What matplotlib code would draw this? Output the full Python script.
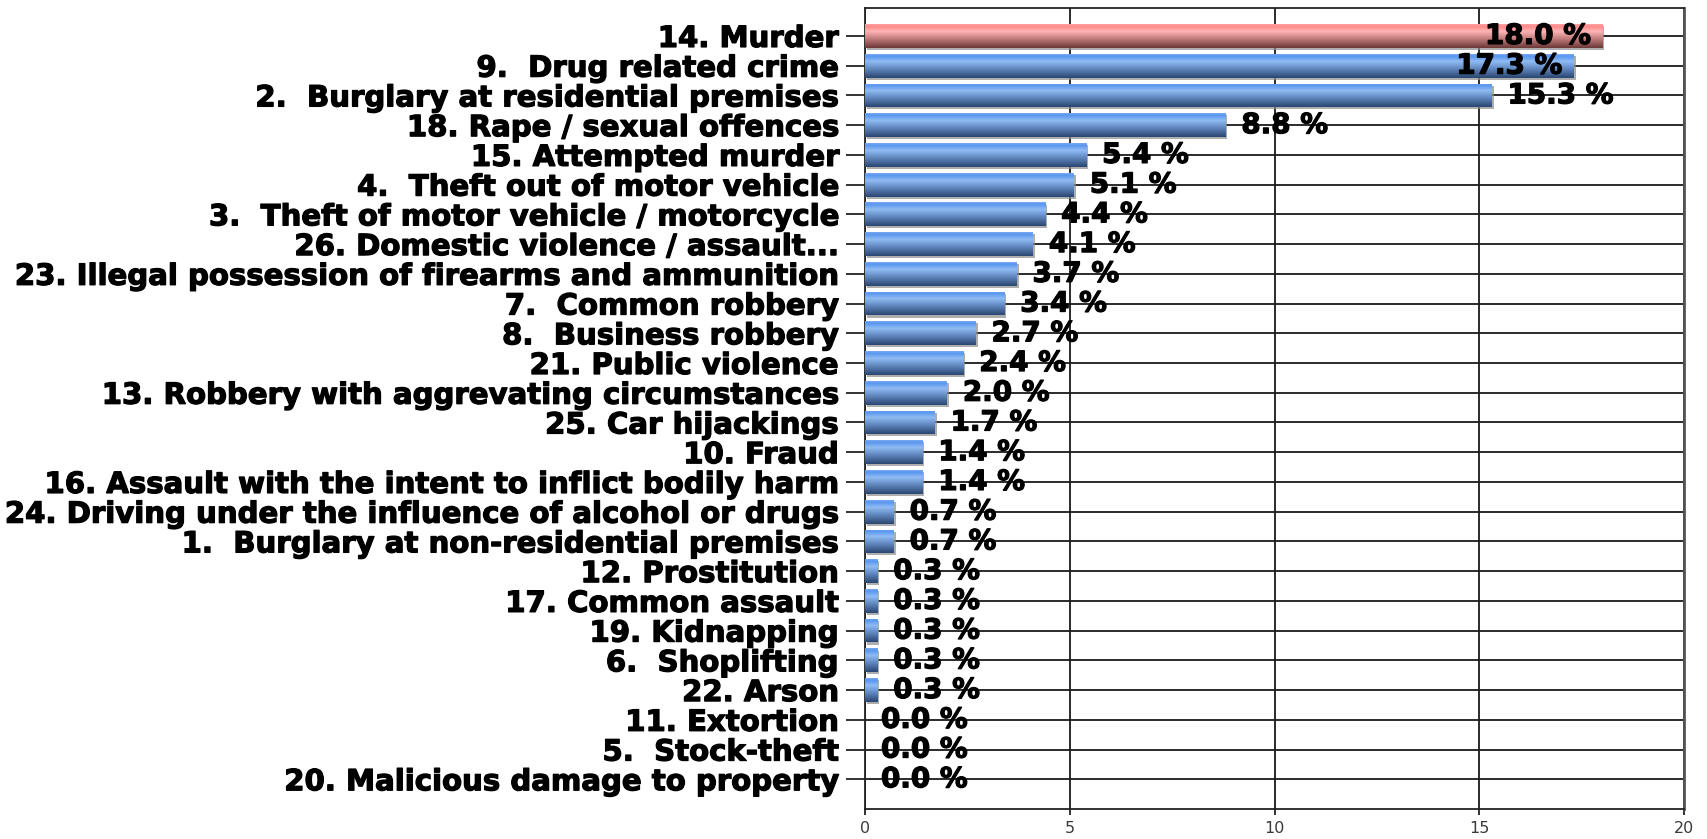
import matplotlib
matplotlib.use('Agg')
import matplotlib.pyplot as plt
import matplotlib.patheffects as pe
import numpy as np
from matplotlib.colors import LinearSegmentedColormap

plt.rcParams['font.family'] = ['DejaVu Sans']

# 数据
categories = [
    '14. Murder',
    '9.  Drug related crime',
    '2.  Burglary at residential premises',
    '18. Rape / sexual offences',
    '15. Attempted murder',
    '4.  Theft out of motor vehicle',
    '3.  Theft of motor vehicle / motorcycle',
    '26. Domestic violence / assault...',
    '23. Illegal possession of firearms and ammunition',
    '7.  Common robbery',
    '8.  Business robbery',
    '21. Public violence',
    '13. Robbery with aggrevating circumstances',
    '25. Car hijackings',
    '10. Fraud',
    '16. Assault with the intent to inflict bodily harm',
    '24. Driving under the influence of alcohol or drugs',
    '1.  Burglary at non-residential premises',
    '12. Prostitution',
    '17. Common assault',
    '19. Kidnapping',
    '6.  Shoplifting',
    '22. Arson',
    '11. Extortion',
    '5.  Stock-theft',
    '20. Malicious damage to property',
]
values = [18.0, 17.3, 15.3, 8.8, 5.4, 5.1, 4.4, 4.1, 3.7, 3.4, 2.7, 2.4, 2.0,
          1.7, 1.4, 1.4, 0.7, 0.7, 0.3, 0.3, 0.3, 0.3, 0.3, 0.0, 0.0, 0.0]
highlight = [True] + [False] * 25
x_ticks = [0, 5, 10, 15, 20]

# 渐变颜色
blue_cmap = LinearSegmentedColormap.from_list('blue', [
    (0.0, '#79a9ee'), (0.08, '#5896f0'), (0.3, '#90bbf3'),
    (0.55, '#6a92cb'), (1.0, '#2a4671')])
red_cmap = LinearSegmentedColormap.from_list('red', [
    (0.0, '#ffa5a5'), (0.08, '#ff8888'), (0.3, '#ffb4b4'),
    (0.55, '#cf8686'), (1.0, '#6c3838')])

heavy = [pe.withStroke(linewidth=0.9, foreground='black')]

fig = plt.figure(figsize=(17.07, 8.39), dpi=100)
ax = fig.add_axes([865 / 1707, 1 - 809 / 839, (1684 - 865) / 1707, (809 - 8) / 839])

y = np.arange(len(categories))
bars = ax.barh(y, values, height=0.8,
               color=['#e08a8a' if h else '#5b86c6' for h in highlight],
               zorder=3,
               path_effects=[pe.SimplePatchShadow(offset=(1.5, -1.5), shadow_rgbFace='0.55', alpha=0.7),
                             pe.Normal()])

grad = np.linspace(0, 1, 64).reshape(-1, 1)
for bar, v, h in zip(bars, values, highlight):
    if v <= 0:
        continue
    y0 = bar.get_y()
    hh = bar.get_height()
    im = ax.imshow(grad, cmap=red_cmap if h else blue_cmap, aspect='auto',
                   origin='upper', extent=(0, v, y0 + hh, y0), zorder=4,
                   interpolation='bilinear')
    im.set_clip_path(bar)

# 数值标签
for yi, v in zip(y, values):
    txt = f'{v:.1f} %'
    if v > 16:
        ax.annotate(txt, (v, yi), xytext=(-8, 0), textcoords='offset points',
                    ha='right', va='center', fontsize=20, fontweight='bold',
                    zorder=6, path_effects=heavy)
    else:
        ax.annotate(txt, (v, yi), xytext=(11.5, 0), textcoords='offset points',
                    ha='left', va='center', fontsize=20, fontweight='bold',
                    zorder=6, path_effects=heavy)

ax.set_xlim(0, 20)
ax.set_ylim(26.0, -0.94)
ax.set_xticks(x_ticks)
ax.set_yticks(y)
ax.set_yticklabels(categories, fontsize=21, fontweight='bold')
for lab in ax.get_yticklabels():
    lab.set_path_effects(heavy)
ax.tick_params(axis='y', length=14, width=1.3, pad=5, color='#222222')
ax.tick_params(axis='x', length=4.5, width=1.3, pad=4, labelsize=11.5,
               labelcolor='#3a3a3a', color='#222222')

ax.grid(True, color='#1a1a1a', linewidth=1.3, zorder=1)
ax.set_axisbelow(True)
for side in ['left', 'bottom', 'top']:
    ax.spines[side].set_color('#222222')
    ax.spines[side].set_linewidth(1.3)
ax.spines['right'].set_color('#555555')
ax.spines['right'].set_linewidth(2)

fig.savefig('out.png', dpi=100)
